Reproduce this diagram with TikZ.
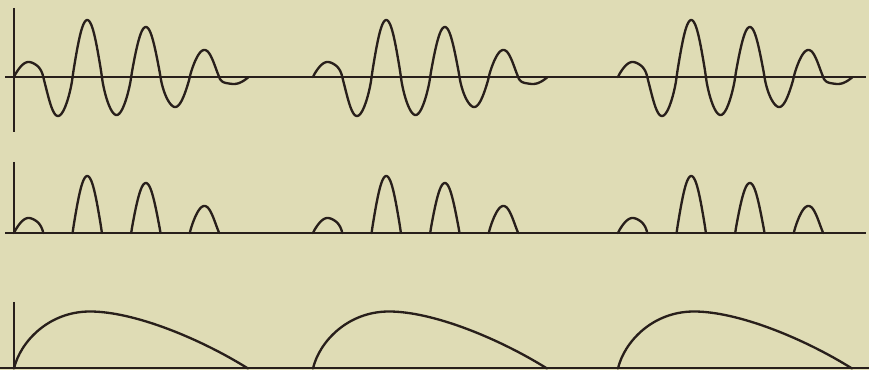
\documentclass[tikz,border=0pt]{standalone}
\definecolor{paper}{RGB}{223,220,181}
\definecolor{ink}{RGB}{40,31,27}
\tikzset{
  curve/.style={draw=ink, line width=1.75pt, line cap=round, line join=round},
  axisline/.style={draw=ink, line width=1.5pt},
}
\begin{document}
\begin{tikzpicture}[x=0.75pt, y=-0.75pt]
\fill[paper] (0,0) rectangle (869,370);
\useasboundingbox (0,0) rectangle (869,370);
\def\h{29.3}
% axes
\draw[axisline] (5,77) -- (866,77);
\draw[axisline] (14,8) -- (14,132);
\draw[axisline] (5,233) -- (866,233);
\draw[axisline] (14,162) -- (14,233);
\draw[axisline] (0,368.5) -- (869,368.5);
\draw[axisline] (14,302) -- (14,368.5);
% top row: damped wave trains
\foreach \X in {14,313,618}{
  \foreach \i/\ap/\a/\an/\s in {0/15/15/39/1, 1/15/39/57/-1, 2/39/57/38/1, 3/57/38/50/-1, 4/38/50/30/1, 5/50/30/27/-1, 6/30/27/7/1, 7/27/7/7/-1}{
    \draw[curve] plot[domain=0:1, samples=41, variable=\t]
      ({\X + (\i+\t)*\h}, {77 - \s*(\a + (\ap-\a)*4*(max(0.5-\t,0))^3 + (\an-\a)*4*(max(\t-0.5,0))^3)*(max(sin(180*\t),0))^0.88});
  }
}
% middle row: rectified half-waves
\foreach \X in {14,313,618}{
  \foreach \i/\ap/\a/\an in {0/15/15/39, 2/39/57/38, 4/38/50/30, 6/30/27/7}{
    \draw[curve] plot[domain=0:1, samples=41, variable=\t]
      ({\X + (\i+\t)*\h}, {233 - (\a + (\ap-\a)*4*(max(0.5-\t,0))^3 + (\an-\a)*4*(max(\t-0.5,0))^3)*(max(sin(180*\t),0))^0.88});
  }
}
% bottom row: envelopes
\foreach \X in {14,313,618}{
  \begin{scope}[shift={(\X,368.5)}]
  \draw[curve] (0,0) .. controls (6,-26) and (34,-57) .. (76,-57)
      .. controls (120,-57) and (186,-30) .. (234,0);
  \end{scope}
}
\end{tikzpicture}
\end{document}
